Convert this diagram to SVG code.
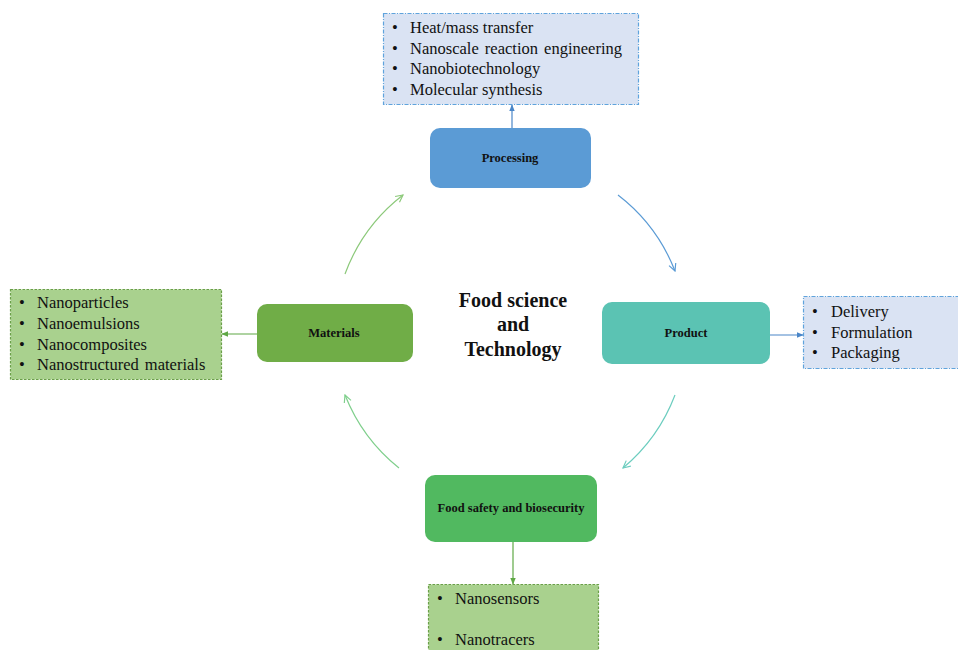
<svg xmlns="http://www.w3.org/2000/svg" width="958" height="650" viewBox="0 0 958 650">
<style>
.node{stroke:none}
.lbl{font-family:"Liberation Serif","Times New Roman",serif;font-weight:bold;font-size:12.5px;fill:#111;text-anchor:middle}
.list{font-family:"Liberation Serif","Times New Roman",serif;font-size:16.5px;fill:#111}
.bluebox{fill:#dae3f3;stroke:#5fa3dc;stroke-width:1.2;stroke-dasharray:4 1.5 1 1.5}
.greenbox{fill:#a9d18e;stroke:#6a9f48;stroke-width:1.2;stroke-dasharray:2.5 1.5}
.center{font-family:"Liberation Serif","Times New Roman",serif;font-weight:bold;font-size:20px;fill:#111;text-anchor:middle}
.conn{fill:none;stroke-width:1.2}
</style>
<defs>
<marker id="hBlue" viewBox="0 0 10 10" refX="9" refY="5" markerWidth="9" markerHeight="9" markerUnits="userSpaceOnUse" orient="auto"><path d="M1,1 L9,5 L1,9" fill="none" stroke="#5b9bd5" stroke-width="1.3"/></marker>
<marker id="hTeal" viewBox="0 0 10 10" refX="9" refY="5" markerWidth="9" markerHeight="9" markerUnits="userSpaceOnUse" orient="auto"><path d="M1,1 L9,5 L1,9" fill="none" stroke="#6ccdbf" stroke-width="1.3"/></marker>
<marker id="hGreen" viewBox="0 0 10 10" refX="9" refY="5" markerWidth="9" markerHeight="9" markerUnits="userSpaceOnUse" orient="auto"><path d="M1,1 L9,5 L1,9" fill="none" stroke="#8cc97a" stroke-width="1.3"/></marker>
<marker id="hGreen2" viewBox="0 0 10 10" refX="9" refY="5" markerWidth="9" markerHeight="9" markerUnits="userSpaceOnUse" orient="auto"><path d="M1,1 L9,5 L1,9" fill="none" stroke="#7fcf8c" stroke-width="1.3"/></marker>
<marker id="fBlue" viewBox="0 0 10 10" refX="9" refY="5" markerWidth="7" markerHeight="7" markerUnits="userSpaceOnUse" orient="auto"><path d="M0,1 L10,5 L0,9 Z" fill="#4a86c8"/></marker>
<marker id="fGreen" viewBox="0 0 10 10" refX="9" refY="5" markerWidth="7" markerHeight="7" markerUnits="userSpaceOnUse" orient="auto"><path d="M0,1 L10,5 L0,9 Z" fill="#5fa845"/></marker>
</defs>

<g id="connectors">
<path class="conn" d="M345,274 A177,177 0 0 1 403,195" stroke="#8cc97a" marker-end="url(#hGreen)"/>
<path class="conn" d="M618,195 A177,177 0 0 1 675,271" stroke="#5b9bd5" marker-end="url(#hBlue)"/>
<path class="conn" d="M675,395 A177,177 0 0 1 623,468" stroke="#6ccdbf" marker-end="url(#hTeal)"/>
<path class="conn" d="M399,468 A177,177 0 0 1 345,395" stroke="#7fcf8c" marker-end="url(#hGreen2)"/>
<line class="conn" x1="512" y1="128" x2="512" y2="105" stroke="#4a86c8" marker-end="url(#fBlue)"/>
<line class="conn" x1="767" y1="335" x2="803" y2="335" stroke="#4a86c8" marker-end="url(#fBlue)"/>
<line class="conn" x1="257" y1="334" x2="222" y2="334" stroke="#5fa845" marker-end="url(#fGreen)"/>
<line class="conn" x1="513" y1="542" x2="513" y2="584" stroke="#5fa845" marker-end="url(#fGreen)"/>
</g>

<g id="center-title">
<text class="center" x="513" y="307">Food science</text>
<text class="center" x="513" y="331">and</text>
<text class="center" x="513" y="356">Technology</text>
</g>

<g id="processing">
<rect class="node" x="430" y="128" width="161" height="60" rx="10" fill="#5b9bd5"/>
<text class="lbl" x="510" y="162">Processing</text>
</g>

<g id="processing-list">
<rect class="bluebox" x="383.5" y="13.5" width="255" height="91"/>
<text class="list" x="392" y="33">•</text><text class="list" x="410" y="33">Heat/mass transfer</text>
<text class="list" x="392" y="54">•</text><text class="list" x="410" y="54" word-spacing="2">Nanoscale reaction engineering</text>
<text class="list" x="392" y="74">•</text><text class="list" x="410" y="74">Nanobiotechnology</text>
<text class="list" x="392" y="95">•</text><text class="list" x="410" y="95">Molecular synthesis</text>
</g>

<g id="materials">
<rect class="node" x="257" y="304" width="156" height="58" rx="10" fill="#70ad47"/>
<text class="lbl" x="334" y="337">Materials</text>
</g>

<g id="materials-list">
<rect class="greenbox" x="10.5" y="289.5" width="211" height="90"/>
<text class="list" x="19" y="308">•</text><text class="list" x="37" y="308">Nanoparticles</text>
<text class="list" x="19" y="329">•</text><text class="list" x="37" y="329">Nanoemulsions</text>
<text class="list" x="19" y="350">•</text><text class="list" x="37" y="350">Nanocomposites</text>
<text class="list" x="19" y="370">•</text><text class="list" x="37" y="370" word-spacing="2">Nanostructured materials</text>
</g>

<g id="product">
<rect class="node" x="602" y="302" width="168" height="62" rx="10" fill="#5bc3b3"/>
<text class="lbl" x="686" y="337">Product</text>
</g>

<g id="product-list">
<rect class="bluebox" x="803.5" y="296.5" width="160" height="72"/>
<text class="list" x="812" y="317">•</text><text class="list" x="831" y="317">Delivery</text>
<text class="list" x="812" y="338">•</text><text class="list" x="831" y="338">Formulation</text>
<text class="list" x="812" y="358">•</text><text class="list" x="831" y="358">Packaging</text>
</g>

<g id="food-safety">
<rect class="node" x="425" y="475" width="172" height="67" rx="10" fill="#51b960"/>
<text class="lbl" x="511" y="512">Food safety and biosecurity</text>
</g>

<g id="food-safety-list">
<rect class="greenbox" x="428.5" y="584.5" width="170" height="80"/>
<text class="list" x="437" y="604">•</text><text class="list" x="455" y="604">Nanosensors</text>
<text class="list" x="437" y="645">•</text><text class="list" x="455" y="645">Nanotracers</text>
</g>
</svg>
